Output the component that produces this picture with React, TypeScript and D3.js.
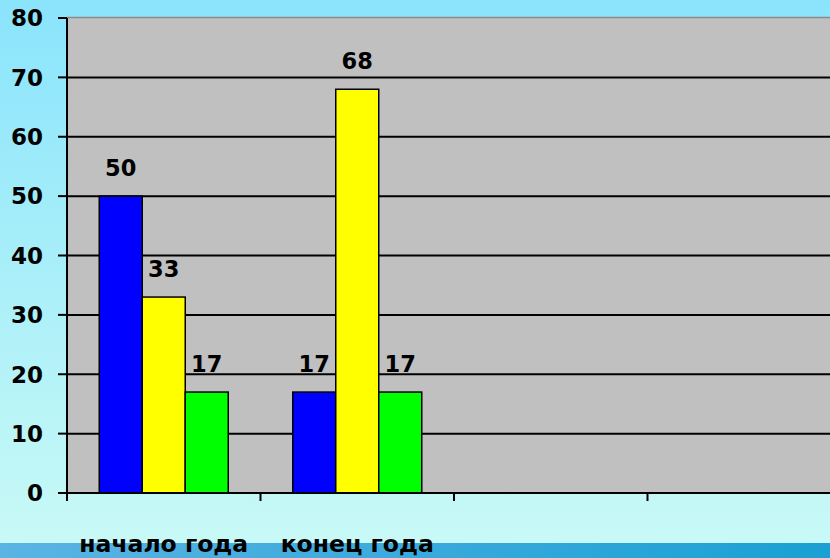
import React from "react";
import * as d3 from "d3";

const categories = ["начало года", "конец года", "", ""];
const series1 = [50, 17, null, null];
const series2 = [33, 68, null, null];
const series3 = [17, 17, null, null];
const seriesColors = ["#0000ff", "#ffff00", "#00ff00"];
const yTicks = [0, 10, 20, 30, 40, 50, 60, 70, 80];

const W = 830;
const H = 558;
const left = 67;
const top = 18;
const bottom = 493;
const catW = 193.5;

export default function App() {
  const x = d3
    .scaleBand<number>()
    .domain(d3.range(categories.length))
    .range([left, left + catW * categories.length])
    .paddingInner(0)
    .paddingOuter(0);
  const inner = d3
    .scaleBand<number>()
    .domain([0, 1, 2])
    .range([0, x.bandwidth()])
    .paddingOuter(0.75)
    .paddingInner(0);
  const y = d3.scaleLinear().domain([0, 80]).range([bottom, top]);
  const allSeries = [series1, series2, series3];
  const font = "'DejaVu Sans', Verdana, sans-serif";

  return (
    <svg
      width={W}
      height={H}
      style={{ position: "absolute", left: 0, top: 0 }}
      xmlns="http://www.w3.org/2000/svg"
    >
      <defs>
        <linearGradient id="bg" x1="0" y1="0" x2="0" y2="1">
          <stop offset="0" stopColor="#8ae4fc" />
          <stop offset="1" stopColor="#cafaf6" />
        </linearGradient>
        <linearGradient id="strip" x1="0" y1="0" x2="1" y2="0">
          <stop offset="0" stopColor="#5ab4e4" />
          <stop offset="1" stopColor="#1aa0d4" />
        </linearGradient>
      </defs>
      <rect x={0} y={0} width={W} height={H} fill="url(#bg)" />
      <rect x={0} y={543} width={W} height={H - 543} fill="url(#strip)" />
      <rect
        x={left}
        y={top}
        width={W - left}
        height={bottom - top}
        fill="#c0c0c0"
      />
      <line x1={left} x2={W} y1={top - 0.5} y2={top - 0.5} stroke="#8a8a8a" strokeWidth={1.5} />
      {yTicks
        .filter((t) => t > 0 && t < 80)
        .map((t) => (
          <line
            key={t}
            x1={left}
            x2={W}
            y1={y(t)}
            y2={y(t)}
            stroke="#000"
            strokeWidth={2}
          />
        ))}
      {allSeries.map((s, si) =>
        s.map((v, ci) =>
          v == null ? null : (
            <rect
              key={`${si}-${ci}`}
              x={(x(ci) as number) + (inner(si) as number)}
              y={y(v)}
              width={inner.bandwidth()}
              height={bottom - y(v)}
              fill={seriesColors[si]}
              stroke="#000"
              strokeWidth={1.5}
            />
          )
        )
      )}
      {allSeries.map((s, si) =>
        s.map((v, ci) =>
          v == null ? null : (
            <text
              key={`l${si}-${ci}`}
              x={(x(ci) as number) + (inner(si) as number) + inner.bandwidth() / 2}
              y={y(v) - 20}
              textAnchor="middle"
              fontFamily={font}
              fontWeight="bold"
              fontSize={22.5}
              fill="#000"
            >
              {v}
            </text>
          )
        )
      )}
      <line x1={left} x2={left} y1={top} y2={bottom + 8} stroke="#000" strokeWidth={2} />
      <line x1={left - 9} x2={W} y1={bottom} y2={bottom} stroke="#000" strokeWidth={2} />
      {yTicks.map((t) => (
        <line
          key={`yt${t}`}
          x1={left - 9}
          x2={left}
          y1={y(t)}
          y2={y(t)}
          stroke="#000"
          strokeWidth={2}
        />
      ))}
      {d3.range(categories.length + 1).map((i) => (
        <line
          key={`xt${i}`}
          x1={left + catW * i}
          x2={left + catW * i}
          y1={bottom}
          y2={bottom + 8}
          stroke="#000"
          strokeWidth={2}
        />
      ))}
      {yTicks.map((t) => (
        <text
          key={`yl${t}`}
          x={43}
          y={y(t)}
          dy="0.36em"
          textAnchor="end"
          fontFamily={font}
          fontWeight="bold"
          fontSize={23}
          fill="#000"
        >
          {t}
        </text>
      ))}
      {categories.map((c, i) =>
        c ? (
          <text
            key={`c${i}`}
            x={(x(i) as number) + x.bandwidth() / 2}
            y={552}
            textAnchor="middle"
            fontFamily={font}
            fontWeight="bold"
            fontSize={23.5}
            fill="#000"
          >
            {c}
          </text>
        ) : null
      )}
    </svg>
  );
}
